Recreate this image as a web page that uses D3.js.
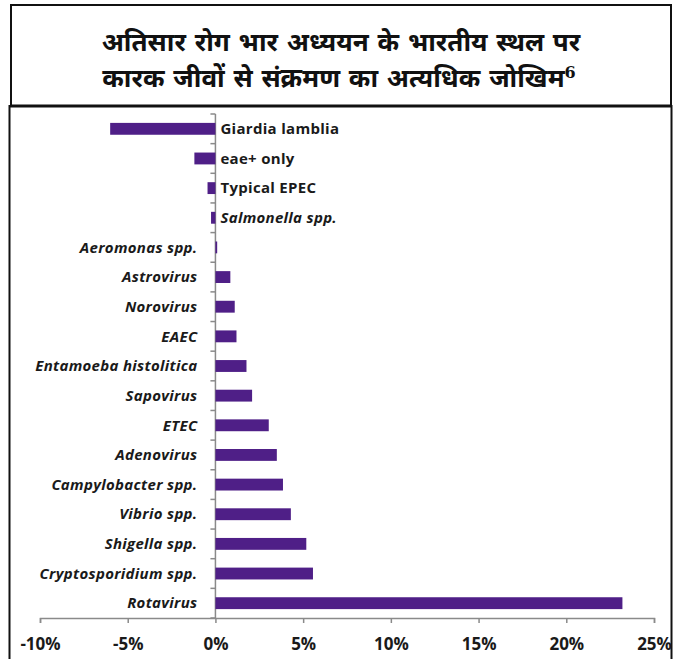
<!DOCTYPE html>
<html>
<head>
<meta charset="utf-8">
<script src="https://cdn.jsdelivr.net/npm/d3@7"></script>
<style>
  body { margin: 0; background: #fff; }
</style>
</head>
<body>
<div id="chart"></div>
<script>
// Pathogens, top to bottom
const categories = [
    'Giardia lamblia', 'eae+ only', 'Typical EPEC', 'Salmonella spp.', 'Aeromonas spp.',
    'Astrovirus', 'Norovirus', 'EAEC', 'Entamoeba histolitica', 'Sapovirus', 'ETEC',
    'Adenovirus', 'Campylobacter spp.', 'Vibrio spp.', 'Shigella spp.',
    'Cryptosporidium spp.', 'Rotavirus'
];
// attributable risk, %
const values = [
    -6.0, -1.2, -0.45, -0.25, 0.1,
    0.85, 1.1, 1.2, 1.77, 2.09, 3.04,
    3.5, 3.85, 4.3, 5.18,
    5.56, 23.2
];
const uprightLabels = ['Giardia lamblia', 'eae+ only', 'Typical EPEC'];
const xTicks = [-10, -5, 0, 5, 10, 15, 20, 25];
const titleLines = ['अतिसार रोग भार अध्ययन के भारतीय स्थल पर', 'कारक जीवों से संक्रमण का अत्यधिक जोखिम'];
const titleNote = '6';

const data = categories.map((c, i) => ({ name: c, value: values[i] }));

const W = 673, H = 659;
const axisColor = '#8a8a8a';
const barColor = '#4f1f87';
const labelFont = '"Open Sans", Lato, Arial, sans-serif';

const svg = d3.select('#chart')
    .append('svg')
    .attr('width', W)
    .attr('height', H);

// title box
svg.append('rect')
    .attr('x', 11).attr('y', 5)
    .attr('width', 660).attr('height', 101)
    .attr('fill', 'none')
    .attr('stroke', '#111')
    .attr('stroke-width', 2);

// chart box
svg.append('rect')
    .attr('x', 9.5).attr('y', 106)
    .attr('width', 662).attr('height', 570)
    .attr('fill', 'none')
    .attr('stroke', '#111')
    .attr('stroke-width', 2);

svg.append('line')
    .attr('x1', 10).attr('x2', 672)
    .attr('y1', 106).attr('y2', 106)
    .attr('stroke', '#111')
    .attr('stroke-width', 3);

const title = svg.append('text')
    .attr('text-anchor', 'middle')
    .style('font-family', '"Noto Sans", "Noto Sans Devanagari", sans-serif')
    .style('font-weight', 'bold')
    .style('font-size', '26px')
    .style('word-spacing', '2px')
    .style('fill', '#111');

title.append('tspan')
    .attr('x', 341).attr('y', 51)
    .text(titleLines[0]);

const line2 = title.append('tspan')
    .attr('x', 339).attr('y', 87)
    .text(titleLines[1]);
line2.append('tspan')
    .attr('dy', -9)
    .style('font-size', '16px')
    .style('font-family', '"DejaVu Serif", serif')
    .text(titleNote);

// scales
const x = d3.scaleLinear()
    .domain([-10, 25])
    .range([40, 654]);

const y = d3.scaleBand()
    .domain(categories)
    .range([114, 618])
    .paddingInner(0.6)
    .paddingOuter(0.3);

// x axis
const xAxisG = svg.append('g')
    .attr('transform', `translate(0, 618)`)
    .call(d3.axisBottom(x)
        .tickValues(xTicks)
        .tickSize(5)
        .tickPadding(15)
        .tickFormat(d => d + '%'));
xAxisG.select('.domain').attr('stroke', axisColor).attr('stroke-width', 1.5);
xAxisG.selectAll('line').attr('stroke', axisColor).attr('stroke-width', 1.5);
xAxisG.selectAll('text')
    .style('font-family', labelFont)
    .style('font-weight', 'bold')
    .style('font-size', '17px')
    .style('fill', '#1a1a1a');

// y axis at zero, ticks between categories
const step = y.step();
const y0 = y.range()[0];
svg.append('line')
    .attr('x1', x(0)).attr('x2', x(0))
    .attr('y1', y0).attr('y2', y.range()[1])
    .attr('stroke', axisColor)
    .attr('stroke-width', 1.5);

svg.selectAll('.ytick')
    .data(d3.range(categories.length + 1))
    .enter()
    .append('line')
    .attr('x1', x(0) - 5).attr('x2', x(0))
    .attr('y1', i => y0 + i * step)
    .attr('y2', i => y0 + i * step)
    .attr('stroke', axisColor)
    .attr('stroke-width', 1.5);

// bars
svg.selectAll('.bar')
    .data(data)
    .enter()
    .append('rect')
    .attr('x', d => x(Math.min(0, d.value)))
    .attr('y', d => y(d.name))
    .attr('width', d => Math.abs(x(d.value) - x(0)))
    .attr('height', y.bandwidth())
    .attr('fill', barColor);

// category labels
svg.selectAll('.lbl')
    .data(data)
    .enter()
    .append('text')
    .attr('x', d => d.value < 0 ? x(0) + 5 : x(0) - 18)
    .attr('y', d => y(d.name) + y.bandwidth() / 2)
    .attr('dy', '0.35em')
    .attr('text-anchor', d => d.value < 0 ? 'start' : 'end')
    .style('font-family', labelFont)
    .style('font-weight', 'bold')
    .style('font-style', d => uprightLabels.includes(d.name) ? 'normal' : 'italic')
    .style('font-size', '15px')
    .style('letter-spacing', '0.3px')
    .style('fill', '#1a1a1a')
    .text(d => d.name);
</script>
</body>
</html>
